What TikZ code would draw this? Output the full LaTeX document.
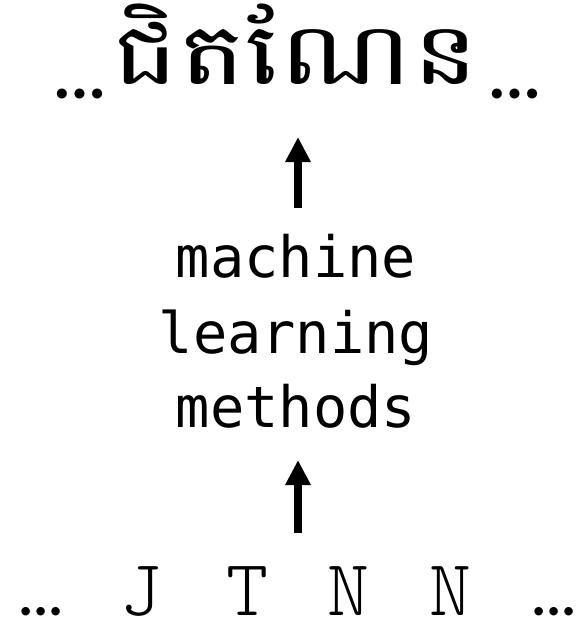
\documentclass[tikz,border=0pt]{standalone}
\usepackage{fontspec}
\usetikzlibrary{arrows.meta}
\newfontfamily\khmerfont[Script=Khmer,FakeStretch=1.3]{Battambang}
\newfontfamily\monofont{DejaVu Sans Mono}
\newfontfamily\dotfont{Lato}
\newfontfamily\lightmono{Latin Modern Mono Light}
\begin{document}
\begin{tikzpicture}[x=1pt,y=-1pt,
  lbl/.style={inner sep=0pt,anchor=base},
  khm/.style={lbl,font=\khmerfont\fontsize{86}{100}\selectfont},
  mid/.style={lbl,font=\monofont\fontsize{57}{70}\selectfont},
  tok/.style={lbl,font=\lightmono\fontsize{80}{90}\selectfont},
  dts/.style={lbl,font=\dotfont\bfseries\fontsize{66}{70}\selectfont},
  dtb/.style={lbl,font=\dotfont\bfseries\fontsize{56}{70}\selectfont},
  arr/.style={line width=8pt,-{Triangle[width=24pt,length=25pt]}}]
\useasboundingbox (0,0) rectangle (588,621);
% top
\node[khm] (kh) at (296,84) {ជិតណែន};
\node[dts] (tl) at (80,98) {…};
\node[dts] (tr) at (515,98) {…};
% middle
\node[mid] (m1) at (296,277) {machine};
\node[mid] (m2) at (296,353) {learning};
\node[mid] (m3) at (296,427) {methods};
% bottom
\node[dtb] (bl) at (41,615) {…};
\node[tok] (j) at (141,615) {J};
\node[tok] (t) at (247,615) {T};
\node[tok] (n1) at (348,615) {N};
\node[tok] (n2) at (450,615) {N};
\node[dtb] (br) at (554,615) {…};
% arrows
\coordinate (a1s) at (298,208);
\coordinate (a1e) at (298,137);
\coordinate (a2s) at (298,533);
\coordinate (a2e) at (298,460);
\draw[arr] (a1s) -- (a1e);
\draw[arr] (a2s) -- (a2e);
\end{tikzpicture}
\end{document}
